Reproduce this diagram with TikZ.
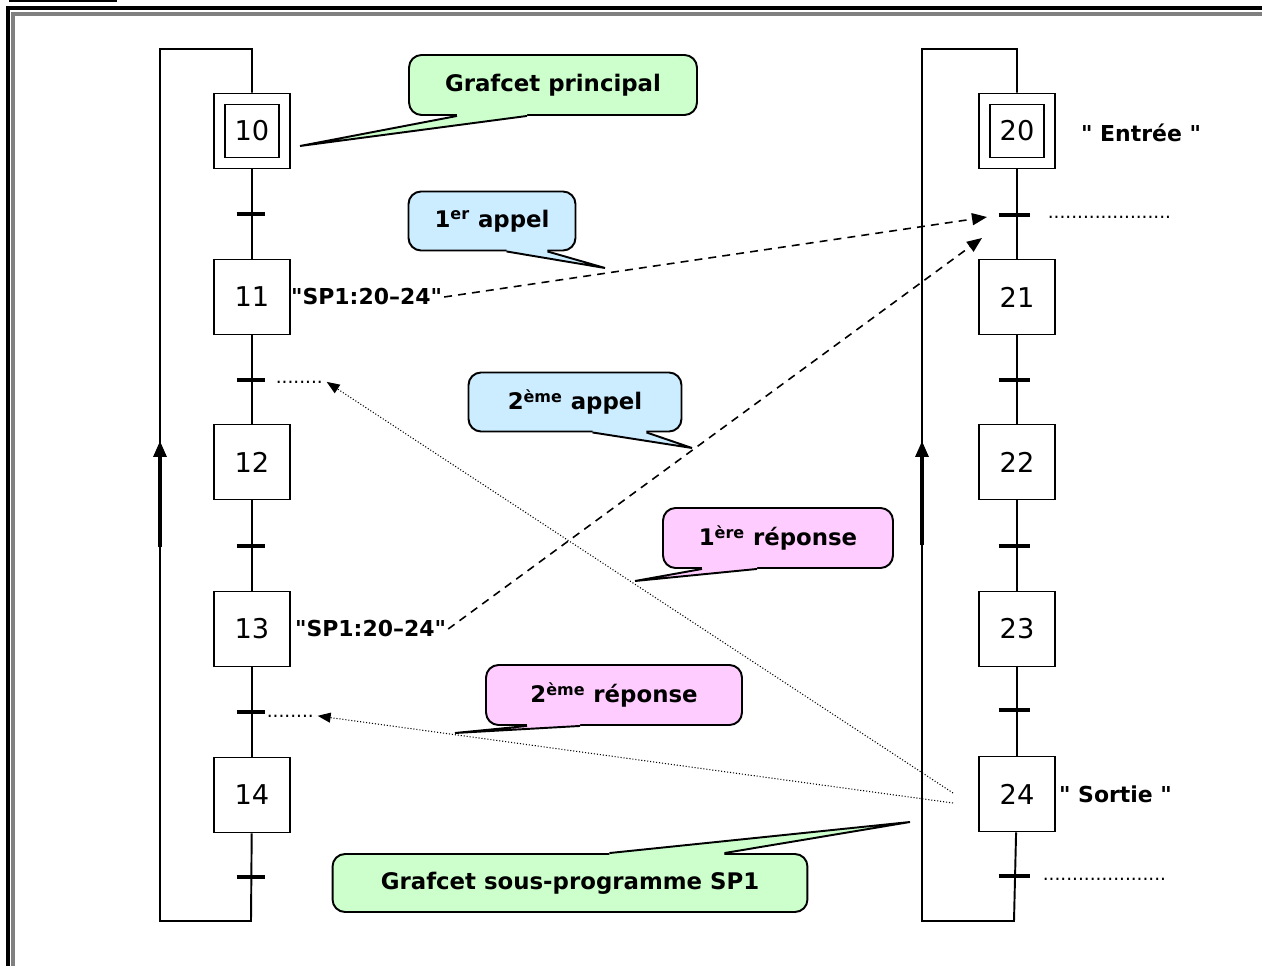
\documentclass[tikz,border=0pt]{standalone}
\usepackage{fontspec}
\setmainfont{DejaVu Sans}[Ligatures=TeXOff]
\usepackage{tikz}
\usetikzlibrary{arrows.meta, positioning, calc}
\definecolor{bubblegreen}{HTML}{CCFFCC}
\definecolor{bubbleblue}{HTML}{CCECFF}
\definecolor{bubblepink}{HTML}{FFCCFF}
\definecolor{framegrey}{HTML}{808080}

\tikzset{
  stepbox/.style={draw, line width=1.1pt, minimum width=1.52cm, minimum height=1.5cm, inner sep=0pt, font=\fontsize{15.5}{17}\selectfont},
  initbox/.style={stepbox, path picture={\draw[line width=1.1pt] ([shift={(0.22cm,-0.22cm)}]path picture bounding box.north west) rectangle ([shift={(-0.22cm,0.22cm)}]path picture bounding box.south east);}},
  flow/.style={line width=1.1pt},
  tick/.style={line width=2.4pt},
  looparrow/.style={line width=1.8pt, -{Triangle[length=0.32cm, width=0.26cm]}},
  actlabel/.style={anchor=west, inner sep=1pt, font=\fontsize{12.5}{14}\selectfont\bfseries},
  blank/.style={anchor=base west, inner sep=2pt, font=\fontsize{10.5}{12}\selectfont},
  bubble/.style={draw, line width=1.1pt, rounded corners=0.25cm, font=\fontsize{13}{15}\selectfont\bfseries},
  callarrow/.style={line width=0.9pt, dash pattern=on 4.5pt off 3.5pt, -{Triangle[length=0.3cm, width=0.24cm]}},
  replyarrow/.style={line width=0.6pt, dash pattern=on 0.6pt off 1.1pt, -{Triangle[length=0.26cm, width=0.2cm]}}
}

% pointer of a speech bubble: base anchor, colour, left/right offsets, inward shift, tip
\newcommand{\bubbletail}[6]{%
  \fill[#2] ([shift={(#3,#5)}]#1) -- ([xshift=#3]#1) -- (#6) -- ([xshift=#4]#1) -- ([shift={(#4,#5)}]#1) -- cycle;
  \draw[line width=1.1pt] ([xshift=#3]#1) -- (#6) -- ([xshift=#4]#1);
}

\begin{document}
\begin{tikzpicture}[x=0.02cm, y=-0.02cm]
  \useasboundingbox (0,0) rectangle (1262,966);

  % page frame, cut by the page edge
  \begin{scope}
    \clip (0,0) rectangle (1262,966);
    \draw[line width=1.6pt] (9,1) -- (117,1);
    \draw[line width=2.3pt] (8,1000) -- (8,8) -- (1300,8);
    \draw[framegrey, line width=2.3pt] (13,1000) -- (13,14) -- (1300,14);
  \end{scope}

  % main grafcet
  \node[initbox] (s10) at (252,131) {10};
  \node[stepbox] (s11) at (252,297) {11};
  \node[stepbox] (s12) at (252,462) {12};
  \node[stepbox] (s13) at (252,629) {13};
  \node[stepbox] (s14) at (252,795) {14};
  \coordinate (t10) at (251,214);
  \coordinate (t11) at (251,380);
  \coordinate (t12) at (251,546);
  \coordinate (t13) at (251,712);
  \coordinate (t14) at (251,877);
  \coordinate (lb) at (251,921);
  \coordinate (lt) at (160,49);
  \draw[flow] (s10) -- (s11);
  \draw[flow] (s11) -- (s12);
  \draw[flow] (s12) -- (s13);
  \draw[flow] (s13) -- (s14);
  \draw[flow] (s14) -- (lb) -| (lt) -| (s10.north);
  \draw[tick] ([xshift=-0.29cm]t10) -- ([xshift=0.29cm]t10);
  \draw[tick] ([xshift=-0.29cm]t11) -- ([xshift=0.29cm]t11);
  \draw[tick] ([xshift=-0.29cm]t12) -- ([xshift=0.29cm]t12);
  \draw[tick] ([xshift=-0.29cm]t13) -- ([xshift=0.29cm]t13);
  \draw[tick] ([xshift=-0.29cm]t14) -- ([xshift=0.29cm]t14);
  \coordinate (la0) at (160,547);
  \coordinate (la1) at (160,441);
  \draw[looparrow] (la0) -- (la1);

  % sub-program grafcet
  \node[initbox] (s20) at (1017,131) {20};
  \node[stepbox] (s21) at (1017,297) {21};
  \node[stepbox] (s22) at (1017,462) {22};
  \node[stepbox] (s23) at (1017,629) {23};
  \node[stepbox] (s24) at (1017,794) {24};
  \coordinate (t20) at (1014,215);
  \coordinate (t21) at (1014,380);
  \coordinate (t22) at (1014,546);
  \coordinate (t23) at (1014,710);
  \coordinate (t24) at (1014,876);
  \coordinate (rb) at (1014,921);
  \coordinate (rt) at (922,49);
  \draw[flow] (s20) -- (s21);
  \draw[flow] (s21) -- (s22);
  \draw[flow] (s22) -- (s23);
  \draw[flow] (s23) -- (s24);
  \draw[flow] (s24) -- (rb) -| (rt) -| (s20.north);
  \draw[tick] ([xshift=-0.31cm]t20) -- ([xshift=0.31cm]t20);
  \draw[tick] ([xshift=-0.31cm]t21) -- ([xshift=0.31cm]t21);
  \draw[tick] ([xshift=-0.31cm]t22) -- ([xshift=0.31cm]t22);
  \draw[tick] ([xshift=-0.31cm]t23) -- ([xshift=0.31cm]t23);
  \draw[tick] ([xshift=-0.31cm]t24) -- ([xshift=0.31cm]t24);
  \coordinate (ra0) at (922,545);
  \coordinate (ra1) at (922,441);
  \draw[looparrow] (ra0) -- (ra1);

  % actions and receptivities
  \node[actlabel] (l11) at (289,297) {"SP1:20–24"};
  \node[actlabel] (l13) at (293,629) {"SP1:20–24"};
  \node[actlabel] (l20) at (1079,133) {" Entrée "};
  \node[actlabel] (l24) at (1057,794) {" Sortie "};
  \node[blank] (d12) at (272,383) {........};
  \node[blank] (d14) at (263,717) {........};
  \node[blank] (d21) at (1044,219) {.....................};
  \node[blank] (d25) at (1039,880) {.....................};

  % calls and returns
  \coordinate (in1) at (987,217);
  \coordinate (in2) at (982,238);
  \coordinate (r1) at (953,793);
  \coordinate (r2) at (953,803);
  \draw[callarrow] (l11.east) -- (in1);
  \draw[callarrow] (l13.east) -- (in2);
  \draw[replyarrow] (r1) -- (d12.east);
  \draw[replyarrow] (r2) -- (d14.east);

  % speech bubbles
  \coordinate (p1) at (300,146);
  \coordinate (p2) at (605,268);
  \coordinate (p3) at (692,448);
  \coordinate (p4) at (635,581);
  \coordinate (p5) at (455,733);
  \coordinate (p6) at (910,822);
  \node[bubble, fill=bubblegreen, minimum width=5.76cm, minimum height=1.2cm] (b1) at (553,85) {Grafcet principal};
  \bubbletail{b1.south}{bubblegreen}{-1.92cm}{-0.52cm}{3pt}{p1}
  \node[bubble, fill=bubbleblue, minimum width=3.34cm, minimum height=1.18cm] (b2) at (492,221) {1\textsuperscript{er} appel};
  \bubbletail{b2.south}{bubbleblue}{0.29cm}{1.11cm}{3pt}{p2}
  \node[bubble, fill=bubbleblue, minimum width=4.26cm, minimum height=1.18cm] (b3) at (575,402) {2\textsuperscript{ème} appel};
  \bubbletail{b3.south}{bubbleblue}{0.35cm}{1.43cm}{3pt}{p3}
  \node[bubble, fill=bubblepink, minimum width=4.6cm, minimum height=1.2cm] (b4) at (778,538) {1\textsuperscript{ère} réponse};
  \bubbletail{b4.south}{bubblepink}{-1.52cm}{-0.42cm}{3pt}{p4}
  \node[bubble, fill=bubblepink, minimum width=5.12cm, minimum height=1.2cm] (b5) at (614,695) {2\textsuperscript{ème} réponse};
  \bubbletail{b5.south}{bubblepink}{-1.74cm}{-0.68cm}{3pt}{p5}
  \node[bubble, fill=bubblegreen, minimum width=9.5cm, minimum height=1.16cm] (b6) at (570,883) {Grafcet sous-programme SP1};
  \bubbletail{b6.north}{bubblegreen}{0.79cm}{3.09cm}{-3pt}{p6}
\end{tikzpicture}
\end{document}
